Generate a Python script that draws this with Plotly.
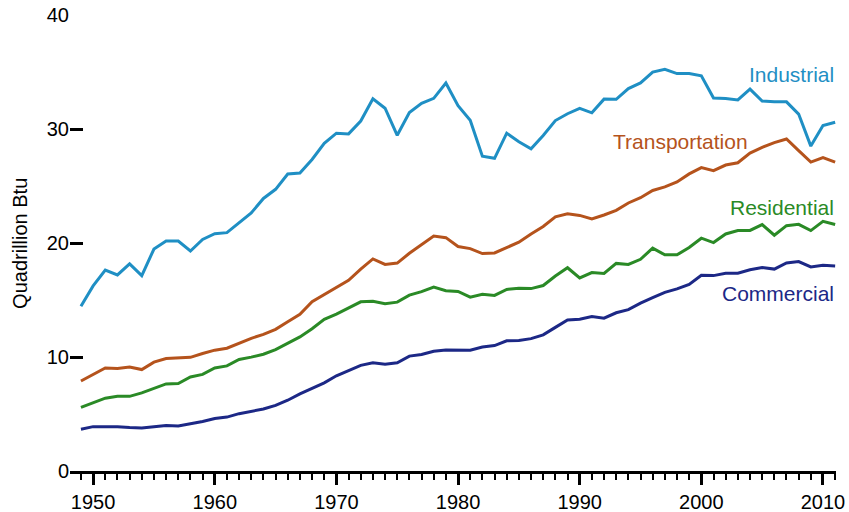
import plotly.graph_objects as go

years = list(range(1949, 2012))

industrial = [14.46, 16.24, 17.63, 17.20, 18.17, 17.14, 19.47, 20.18, 20.17, 19.30,
              20.31, 20.82, 20.91, 21.74, 22.64, 23.91, 24.71, 26.05, 26.13, 27.33,
              28.74, 29.63, 29.57, 30.70, 32.65, 31.82, 29.45, 31.44, 32.26, 32.69,
              34.03, 32.04, 30.76, 27.61, 27.43, 29.63, 28.88, 28.26, 29.43, 30.74,
              31.34, 31.81, 31.42, 32.62, 32.60, 33.55, 34.04, 34.99, 35.24, 34.86,
              34.86, 34.66, 32.72, 32.68, 32.55, 33.50, 32.45, 32.38, 32.38, 31.31,
              28.50, 30.30, 30.59]

transportation = [7.89, 8.49, 9.04, 9.00, 9.12, 8.90, 9.55, 9.86, 9.90, 9.97,
                  10.31, 10.60, 10.77, 11.23, 11.64, 11.98, 12.43, 13.10, 13.75, 14.86,
                  15.50, 16.10, 16.73, 17.71, 18.60, 18.12, 18.24, 19.10, 19.82, 20.61,
                  20.47, 19.69, 19.51, 19.07, 19.13, 19.58, 20.07, 20.79, 21.45, 22.30,
                  22.56, 22.42, 22.12, 22.46, 22.86, 23.51, 23.97, 24.61, 24.92, 25.35,
                  26.06, 26.61, 26.34, 26.84, 27.04, 27.89, 28.39, 28.80, 29.12, 28.10,
                  27.10, 27.50, 27.10]

residential = [5.58, 5.99, 6.39, 6.55, 6.55, 6.85, 7.28, 7.64, 7.68, 8.25,
               8.47, 9.04, 9.22, 9.78, 9.99, 10.24, 10.65, 11.22, 11.76, 12.48,
               13.30, 13.77, 14.27, 14.84, 14.88, 14.68, 14.81, 15.43, 15.73, 16.14,
               15.82, 15.75, 15.25, 15.51, 15.40, 15.93, 16.03, 16.00, 16.27, 17.11,
               17.83, 16.94, 17.41, 17.33, 18.21, 18.12, 18.57, 19.55, 18.96, 18.96,
               19.60, 20.42, 20.04, 20.79, 21.10, 21.10, 21.61, 20.68, 21.52, 21.64,
               21.09, 21.90, 21.62]

commercial = [3.67, 3.89, 3.89, 3.89, 3.81, 3.78, 3.89, 4.00, 3.94, 4.13,
              4.35, 4.61, 4.73, 5.03, 5.21, 5.44, 5.76, 6.21, 6.76, 7.24,
              7.73, 8.35, 8.81, 9.27, 9.49, 9.37, 9.49, 10.08, 10.22, 10.51,
              10.62, 10.58, 10.59, 10.87, 11.00, 11.42, 11.44, 11.61, 11.94, 12.60,
              13.25, 13.32, 13.56, 13.40, 13.88, 14.16, 14.73, 15.20, 15.67, 15.97,
              16.36, 17.17, 17.14, 17.35, 17.35, 17.65, 17.85, 17.71, 18.25, 18.37,
              17.90, 18.05, 17.99]

series = [
    ("Industrial", industrial, "#1f8fc4"),
    ("Transportation", transportation, "#b5531c"),
    ("Residential", residential, "#2a8a26"),
    ("Commercial", commercial, "#1c2886"),
]

# label anchor positions (year of right edge, value of text centre)
labels = {
    "Industrial": (2011.07, 34.8),
    "Transportation": (2004.0, 28.9),
    "Residential": (2011.07, 23.1),
    "Commercial": (2011.07, 15.6),
}

FONT = "Liberation Sans, Arial, sans-serif"

fig = go.Figure()
for name, vals, color in series:
    fig.add_trace(go.Scatter(x=years, y=vals, mode="lines", name=name,
                             line=dict(color=color, width=3)))
    lx, ly = labels[name]
    fig.add_annotation(x=lx, y=ly, text=name, showarrow=False,
                       xanchor="right", yanchor="middle",
                       font=dict(family=FONT, size=21, color=color))

fig.add_annotation(xref="paper", yref="paper", x=-0.0654, y=0.5,
                   text="Quadrillion Btu", textangle=-90, showarrow=False,
                   xanchor="center", yanchor="middle",
                   font=dict(family=FONT, size=20, color="black"))

fig.update_layout(
    width=849, height=512,
    margin=dict(l=70, r=13, t=15, b=41, autoexpand=False),
    paper_bgcolor="white", plot_bgcolor="white",
    showlegend=False,
    font=dict(family=FONT, size=20, color="black"),
    xaxis=dict(range=[1948.1, 2011.07], showgrid=False, zeroline=False,
               automargin=False,
               showline=True, linecolor="black", linewidth=3,
               ticks="outside", ticklen=11, tickwidth=3, tickcolor="black",
               tick0=1950, dtick=10,
               minor=dict(ticks="outside", dtick=1, tick0=1950, ticklen=6,
                          tickwidth=2, tickcolor="black", showgrid=False),
               tickfont=dict(family=FONT, size=20, color="black")),
    yaxis=dict(range=[0, 40], showgrid=False, zeroline=False, showline=False,
               automargin=False,
               ticks="inside", ticklen=13, tickwidth=3, tickcolor="black",
               tick0=0, dtick=10,
               tickfont=dict(family=FONT, size=20, color="black")),
)

fig.write_html(
    "out.html",
    config={"displayModeBar": False},
    post_script="document.body.style.margin='0';document.body.style.overflow='hidden';",
)
